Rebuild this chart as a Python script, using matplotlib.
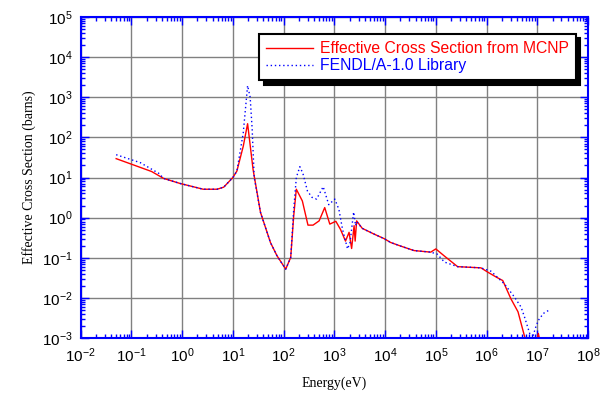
import matplotlib
matplotlib.use("Agg")
import matplotlib.pyplot as plt

# effective cross section from MCNP (eV, barns)
mcnp_energy = [0.05, 0.25, 0.43, 0.91, 2.6, 4.9, 6.6, 10, 12, 16, 19.5, 25, 35, 55, 74,
               110, 138, 158, 178, 234, 302, 380, 501, 646, 813, 1070, 1320, 1660, 1950,
               2190, 2450, 2570, 2750, 3550, 6030, 9550, 12900, 20400, 37200, 79400,
               100000, 148000, 269000, 776000, 1.05e6, 1.55e6, 2.09e6, 3.02e6, 4.17e6,
               6.0e6, 8.9e6, 1.05e7, 1.23e7]
mcnp_xs = [29.5, 14.1, 9.5, 7.1, 5.1, 5.1, 5.75, 10, 14.5, 60, 219, 15.8, 1.35, 0.24, 0.112,
           0.052, 0.102, 1.1, 5.1, 2.6, 0.65, 0.65, 0.83, 1.78, 0.69, 0.81, 0.51, 0.26, 0.43,
           0.17, 0.63, 0.26, 0.83, 0.54, 0.39, 0.30, 0.24, 0.195, 0.151, 0.138,
           0.166, 0.11, 0.060, 0.056, 0.044, 0.033, 0.027, 0.0095, 0.0045,
           0.0008, 0.0005, 0.0013, 0.0005]

# FENDL/A-1.0 library
fendl_energy = [0.05, 0.15, 0.35, 0.43, 0.91, 2.6, 4.9, 6.6, 10, 12, 16, 19.5, 21.9, 24, 26.3,
                35, 55, 74, 110, 138, 158, 178, 209, 240, 295, 363, 447, 603, 776, 1020,
                1230, 1450, 1820, 2040, 2400, 2630, 2750, 3550, 6030, 9550, 12900, 20400,
                37200, 79400, 107000, 148000, 269000, 776000, 1.23e6, 2.24e6, 3.55e6,
                4.79e6, 5.62e6, 7.08e6, 8.32e6, 9.33e6, 1.05e7, 1.32e7, 1.78e7]
fendl_xs = [37, 23.4, 12.6, 9.5, 7.1, 5.1, 5.1, 5.75, 10, 14.5, 129, 1950, 1000, 158, 10,
            1.35, 0.24, 0.112, 0.052, 0.102, 1.58, 10, 18.6, 12.6, 4.6, 3.2, 2.9, 5.9, 2.1, 2.9,
            1.6, 0.51, 0.166, 0.24, 1.38, 0.63, 0.79, 0.54, 0.39, 0.30, 0.24, 0.195,
            0.151, 0.138, 0.123, 0.078, 0.060, 0.056, 0.046, 0.0224, 0.0105,
            0.0059, 0.0033, 0.0013, 0.00117, 0.00186, 0.00275, 0.0041, 0.0051]

plt.rcParams['font.family'] = ['Liberation Sans', 'DejaVu Sans']
plt.rcParams['mathtext.default'] = 'regular'

fig = plt.figure(figsize=(6.03, 3.94), dpi=100)
ax = fig.add_axes([80.7 / 603, 1 - 338 / 394, 507.3 / 603, 321 / 394])

ax.plot(mcnp_energy, mcnp_xs, color='red', lw=1, label='Effective Cross Section from MCNP')
ax.plot(fendl_energy, fendl_xs, color='blue', lw=1, linestyle=(0, (1, 2)),
        label='FENDL/A-1.0 Library')

ax.set_xscale('log')
ax.set_yscale('log')
ax.set_xlim(1e-2, 1e8)
ax.set_ylim(1e-3, 1e5)
ax.xaxis.set_major_locator(matplotlib.ticker.LogLocator(base=10, numticks=20))
ax.yaxis.set_major_locator(matplotlib.ticker.LogLocator(base=10, numticks=20))
ax.xaxis.set_minor_locator(matplotlib.ticker.LogLocator(base=10, subs=range(2, 10), numticks=20))
ax.yaxis.set_minor_locator(matplotlib.ticker.LogLocator(base=10, subs=range(2, 10), numticks=20))
ax.xaxis.set_minor_formatter(matplotlib.ticker.NullFormatter())
ax.yaxis.set_minor_formatter(matplotlib.ticker.NullFormatter())

ax.grid(True, which='major', color='#808080', lw=1)
for s in ax.spines.values():
    s.set_color('blue')
    s.set_linewidth(1.5)
ax.tick_params(which='both', direction='in', color='blue', top=True, right=True,
               labelsize=11, pad=6)
ax.tick_params(which='major', length=6, width=1)
ax.tick_params(which='minor', length=3, width=1)

ax.set_xlabel('Energy(eV)', family='Liberation Serif', fontsize=10, labelpad=8)
ax.set_ylabel('Effective Cross Section (barns)', family='Liberation Serif', fontsize=10,
              labelpad=4)

leg = ax.legend(loc='upper right', bbox_to_anchor=(0.976, 0.947), borderaxespad=0,
                fancybox=False, edgecolor='black', framealpha=1, fontsize=11.3,
                handlelength=3.0, handletextpad=0.4, labelspacing=0.15, borderpad=0.45,
                shadow={'color': 'black', 'alpha': 1, 'ox': 3, 'oy': -3})
leg.get_frame().set_linewidth(1.5)
for txt, c in zip(leg.get_texts(), ['red', 'blue']):
    txt.set_color(c)

fig.savefig('out.png', dpi=100)
